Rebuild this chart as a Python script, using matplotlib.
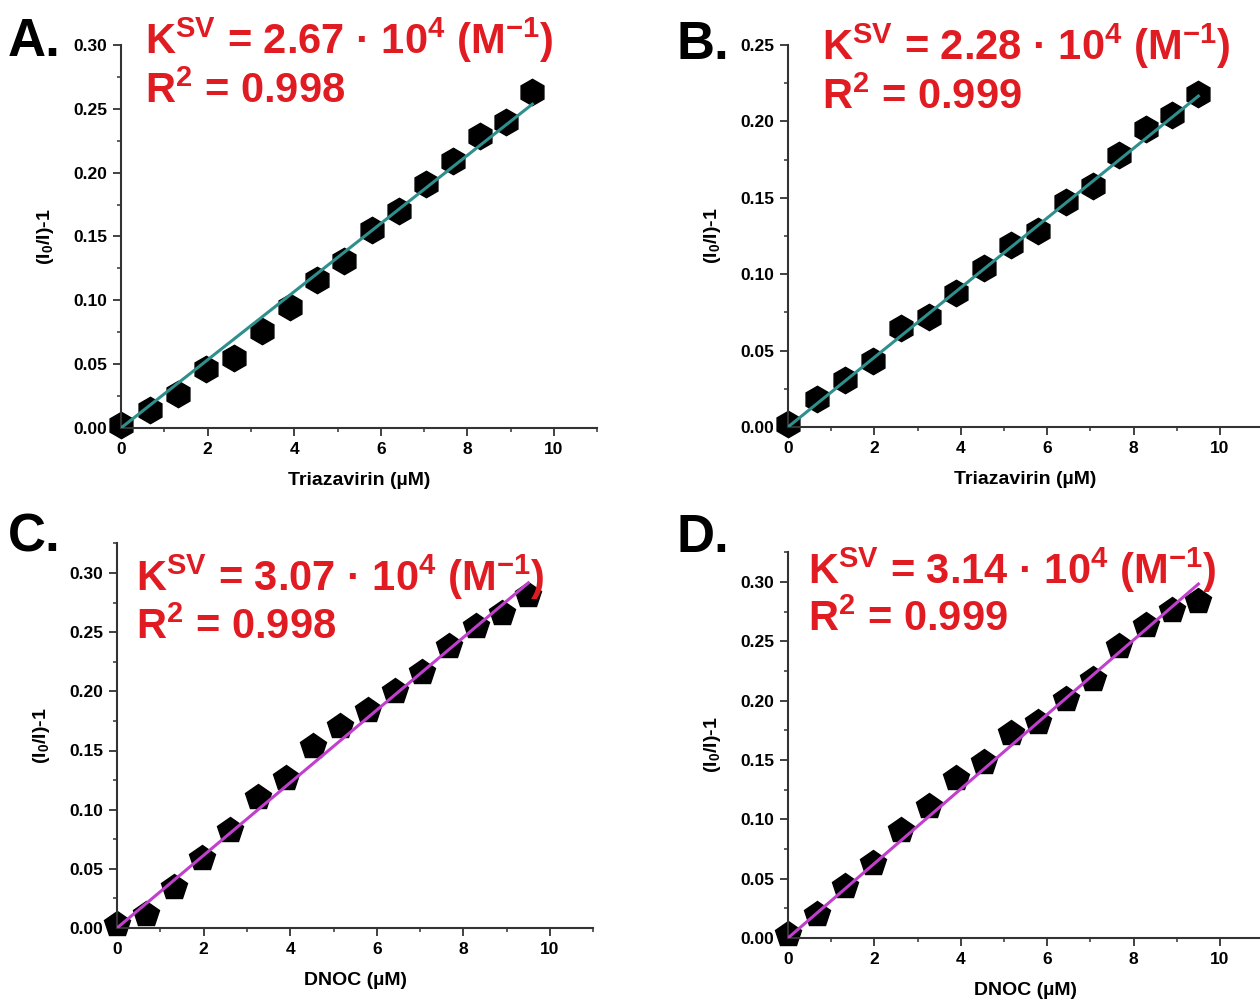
import numpy as np
import matplotlib
matplotlib.use('Agg')
import matplotlib.pyplot as plt
from matplotlib.ticker import MultipleLocator, FormatStrFormatter

plt.rcParams['font.family'] = ['Liberation Sans', 'DejaVu Sans']
plt.rcParams['font.weight'] = 'bold'
plt.rcParams['mathtext.fontset'] = 'custom'
plt.rcParams['mathtext.rm'] = 'Liberation Sans:bold'
plt.rcParams['mathtext.it'] = 'Liberation Sans:bold'
plt.rcParams['mathtext.bf'] = 'Liberation Sans:bold'

# Concentration (uM), same for all panels
conc = [0, 0.66, 1.31, 1.96, 2.61, 3.26, 3.90, 4.53, 5.16, 5.79, 6.43, 7.05, 7.67, 8.29, 8.90, 9.50]

# (I0/I)-1 values
y_a = [0.002, 0.014, 0.027, 0.046, 0.055, 0.076, 0.095, 0.116, 0.131, 0.155, 0.170, 0.191, 0.209, 0.229, 0.240, 0.263]
y_b = [0.002, 0.018, 0.031, 0.043, 0.065, 0.072, 0.088, 0.104, 0.119, 0.128, 0.147, 0.158, 0.178, 0.195, 0.204, 0.218]
y_c = [0.003, 0.012, 0.035, 0.059, 0.083, 0.111, 0.127, 0.154, 0.171, 0.184, 0.200, 0.216, 0.238, 0.255, 0.266, 0.281]
y_d = [0.003, 0.020, 0.044, 0.063, 0.091, 0.111, 0.135, 0.148, 0.173, 0.182, 0.201, 0.218, 0.246, 0.264, 0.276, 0.284]

ksv = [2.67, 2.28, 3.07, 3.14]      # x 10^4 M^-1
r2 = ['0.998', '0.999', '0.998', '0.999']
letters = ['A.', 'B.', 'C.', 'D.']
xlabels = ['Triazavirin (µM)', 'Triazavirin (µM)', 'DNOC (µM)', 'DNOC (µM)']
ytops = [0.30, 0.25, 0.325, 0.325]

W, H = 1260, 1001
fig = plt.figure(figsize=(W / 100, H / 100), dpi=100)

def px(x, y):
    return x / W, 1 - y / H

# axes boxes in pixels: left, y of zero line, x px per unit, y px per unit
boxes = [(121, 428, 43.3, 383 / 0.30),
         (788, 427, 43.2, 382 / 0.25),
         (117, 928, 43.3, 355 / 0.30),
         (788, 938, 43.2, 356 / 0.30)]
text_pos = [(145, 40, 92), (822, 46, 98), (136, 577, 628), (808, 570, 620)]
letter_pos = [(8, 42), (676, 45), (8, 538), (676, 538)]
markers = ['h', 'h', 'p', 'p']
line_cols = ['#2f8f8c', '#2f8f8c', '#c03fcc', '#c03fcc']
data = [y_a, y_b, y_c, y_d]

for i in range(4):
    left, y0, sx, sy = boxes[i]
    wpx = 11 * sx
    hpx = ytops[i] * sy
    ax = fig.add_axes([left / W, 1 - y0 / H, wpx / W, hpx / H])
    x = np.array(conc)
    ax.plot(x, data[i], linestyle='none', marker=markers[i], ms=19,
            color='black', zorder=2, clip_on=False)
    xf = np.array([0, x[-1]])
    ax.plot(xf, ksv[i] * 1e-2 * xf, color=line_cols[i], lw=2.2, zorder=3)
    ax.set_xlim(0, 11)
    ax.set_ylim(0, ytops[i])
    ax.spines['top'].set_visible(False)
    ax.spines['right'].set_visible(False)
    for s in ['left', 'bottom']:
        ax.spines[s].set_linewidth(1.5)
        ax.spines[s].set_color('#333333')
    ax.xaxis.set_major_locator(MultipleLocator(2))
    ax.xaxis.set_minor_locator(MultipleLocator(1))
    ax.yaxis.set_major_locator(MultipleLocator(0.05))
    ax.yaxis.set_minor_locator(MultipleLocator(0.025))
    ax.yaxis.set_major_formatter(FormatStrFormatter('%.2f'))
    ax.tick_params(which='major', length=6, width=1.3, labelsize=12.5, color='#333333', pad=4)
    ax.tick_params(which='minor', length=3, width=1.1, color='#333333')
    ax.set_xlabel(xlabels[i], fontsize=14, fontweight='bold', labelpad=11)
    ax.set_ylabel('(I$_0$/I)-1', fontsize=14, fontweight='bold', labelpad=12)

    tx, t1, t2 = text_pos[i]
    fig.text(*px(tx, t1), 'K$^{\\mathrm{SV}}$ = %.2f · 10$^{4}$ (M$^{-1}$)' % ksv[i],
             color='#e01b22', fontsize=30, fontweight='bold', va='center', ha='left')
    fig.text(*px(tx, t2), 'R$^{2}$ = ' + r2[i],
             color='#e01b22', fontsize=30, fontweight='bold', va='center', ha='left')
    lx, ly = letter_pos[i]
    fig.text(*px(lx, ly), letters[i], fontsize=38, fontweight='bold', va='center', ha='left')

fig.savefig('out.png', dpi=100)
